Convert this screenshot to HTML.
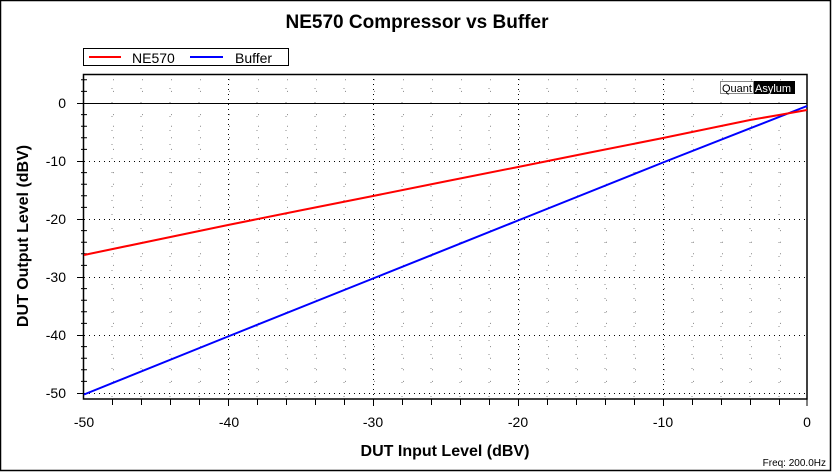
<!DOCTYPE html>
<html><head><meta charset="utf-8"><style>
html,body{margin:0;padding:0;background:#fff;}
svg{display:block;font-family:"Liberation Sans",Arial,sans-serif;}
</style></head><body>
<svg width="834" height="472" viewBox="0 0 834 472" xmlns="http://www.w3.org/2000/svg">
<rect x="0" y="0" width="834" height="472" fill="#fff"/>
<rect x="0.5" y="0.5" width="830" height="470" fill="none" stroke="#000" stroke-width="1.5"/>
<text x="417" y="28" font-size="19" font-weight="bold" text-anchor="middle">NE570 Compressor vs Buffer</text>
<rect x="83.5" y="48.5" width="205" height="17" fill="#fff" stroke="#000"/>
<line x1="89" y1="57" x2="121" y2="57" stroke="#f00" stroke-width="2"/>
<text x="132" y="63" font-size="14">NE570</text>
<line x1="190" y1="57" x2="223" y2="57" stroke="#00f" stroke-width="2"/>
<text x="235" y="63" font-size="14">Buffer</text>
<g stroke="#888" stroke-width="1" stroke-dasharray="1,13">
<path d="M112,74V399M141,74V399M170,74V399M199,74V399M257,74V399M286,74V399M315,74V399M344,74V399M402,74V399M431,74V399M460,74V399M489,74V399M547,74V399M576,74V399M605,74V399M634,74V399M692,74V399M721,74V399M750,74V399M779,74V399"/>
</g>
<g stroke="#888" stroke-width="1" stroke-dasharray="1,28">
<path d="M84,79.8H807M84,91.4H807M84,114.6H807M84,126.2H807M84,137.8H807M84,149.4H807M84,172.6H807M84,184.2H807M84,195.8H807M84,207.4H807M84,230.6H807M84,242.2H807M84,253.8H807M84,265.4H807M84,288.6H807M84,300.2H807M84,311.8H807M84,323.4H807M84,346.6H807M84,358.2H807M84,369.8H807M84,381.4H807"/>
</g>
<g stroke="#000" stroke-width="1" stroke-dasharray="1,4">
<path d="M228.5,74V399M373.5,74V399M518.5,74V399M663.5,74V399M84,161.5H807M84,219.5H807M84,277.5H807M84,335.5H807M84,393.5H807"/>
</g>
<line x1="77" y1="103.5" x2="807" y2="103.5" stroke="#000" stroke-width="1"/>
<rect x="83.5" y="74.5" width="723.5" height="324.5" fill="none" stroke="#000" stroke-width="1.5"/>
<g stroke="#000" stroke-width="1">
<path d="M81,79.8H87M81,91.4H87M81,114.6H87M81,126.2H87M81,137.8H87M81,149.4H87M81,172.6H87M81,184.2H87M81,195.8H87M81,207.4H87M81,230.6H87M81,242.2H87M81,253.8H87M81,265.4H87M81,288.6H87M81,300.2H87M81,311.8H87M81,323.4H87M81,346.6H87M81,358.2H87M81,369.8H87M81,381.4H87"/>
<path d="M77,161.5H84M77,219.5H84M77,277.5H84M77,335.5H84M77,393.5H84"/>
<path d="M112.5,399V405M141.5,399V405M170.5,399V405M199.5,399V405M228.5,399V406M257.5,399V405M286.5,399V405M315.5,399V405M344.5,399V405M373.5,399V406M402.5,399V405M431.5,399V405M460.5,399V405M489.5,399V405M518.5,399V406M547.5,399V405M576.5,399V405M605.5,399V405M634.5,399V405M663.5,399V406M692.5,399V405M721.5,399V405M750.5,399V405M779.5,399V405M807,399V406"/>
</g>
<g font-size="14" fill="#000" text-anchor="end">
<text x="66" y="108">0</text><text x="66" y="166">-10</text><text x="66" y="224">-20</text>
<text x="66" y="282">-30</text><text x="66" y="340">-40</text><text x="66" y="398">-50</text>
</g>
<g font-size="14" fill="#000" text-anchor="middle">
<text x="84" y="427">-50</text><text x="229" y="427">-40</text><text x="373" y="427">-30</text>
<text x="518" y="427">-20</text><text x="663" y="427">-10</text><text x="807" y="427">0</text>
</g>
<text x="445" y="456" font-size="16" font-weight="bold" text-anchor="middle">DUT Input Level (dBV)</text>
<text transform="translate(28,236) rotate(-90)" font-size="16" font-weight="bold" text-anchor="middle">DUT Output Level (dBV)</text>
<text x="826" y="466" font-size="10" text-anchor="end">Freq: 200.0Hz</text>
<rect x="720.5" y="81.5" width="33" height="12" fill="#fff" stroke="#888"/>
<text x="722" y="92" font-size="11">Quant</text>
<rect x="754" y="81" width="41" height="13" fill="#000"/>
<text x="755" y="92" font-size="11" fill="#fff">Asylum</text>
<polyline fill="none" stroke="#00f" stroke-width="2" points="84,394.5 228,336.5 373,278.5 518,220.5 663,162.5 807,106"/>
<polyline fill="none" stroke="#f00" stroke-width="2" points="84,255 156,240 228,225 300,210.5 373,196 445,181.5 518,167 590,152.5 663,138 721,126 750,120 779,115 807,110"/>
</svg>
</body></html>
